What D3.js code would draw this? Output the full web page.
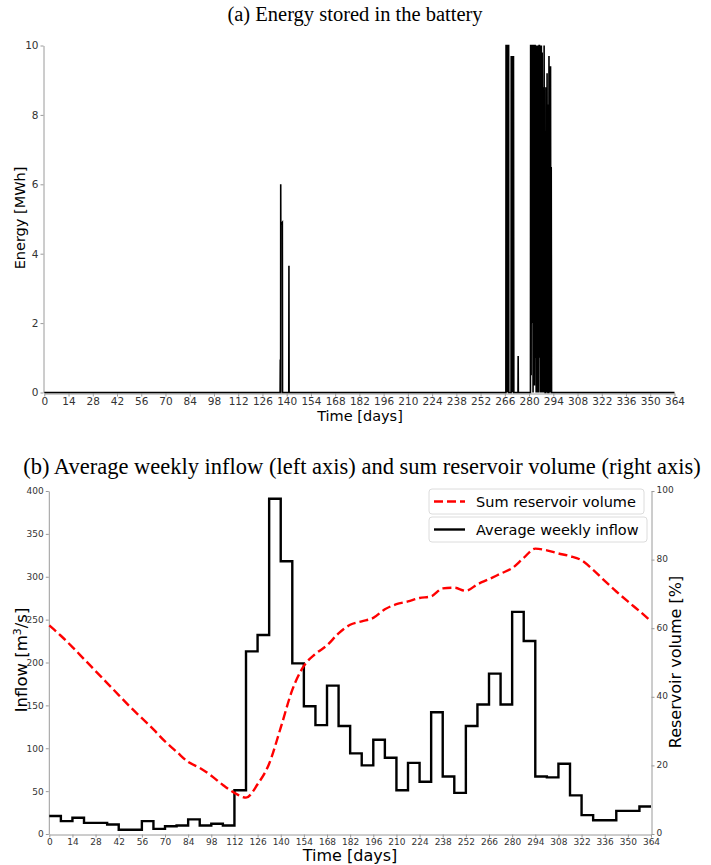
<!DOCTYPE html>
<html><head><meta charset="utf-8">
<script src="https://cdn.jsdelivr.net/npm/d3@7"></script>
<style>body{margin:0;background:#fff}svg{display:block}</style>
</head><body>
<svg id="c" width="711" height="865"></svg>
<script>
// ---------- DATA ----------
const dayTicks = d3.range(0, 365, 14);
const energyTicks = [0, 2, 4, 6, 8, 10];
const inflowTicks = [0, 50, 100, 150, 200, 250, 300, 350, 400];
const volumeTicks = [0, 20, 40, 60, 80, 100];

// Battery energy (MWh) – non-zero episodes, zero elsewhere
const batteryDay = [0, 136.2, 136.3, 136.4, 136.5, 136.55, 136.6, 136.7, 136.75, 137.5, 137.6, 141.2, 141.3, 141.4,
  266.6, 266.7, 266.9, 267.0, 267.1, 267.3, 267.5, 267.7, 267.8, 268.2, 268.3,
  269.6, 269.7, 269.9, 270.0, 270.3, 270.5, 270.8, 271.0, 271.2,
  273.6, 273.7, 273.8,
  280.8, 280.9, 281.1, 281.2, 281.3, 281.5, 281.6, 281.7, 281.9, 282.0, 282.2, 282.3, 282.4, 282.6, 282.7, 282.8,
  283.0, 283.1, 283.2, 283.5, 283.6, 283.7, 283.9, 284.1, 284.2, 284.4, 284.5, 284.7, 284.8, 285.0, 285.2, 285.4,
  285.6, 285.8, 286.0, 286.1, 286.3, 286.5, 286.7, 286.8, 287.0, 287.1, 287.3, 287.4, 287.6, 287.8, 288.0, 288.2,
  288.3, 288.5, 288.7, 288.9, 289.0, 289.2, 289.3,
  289.6, 289.7, 289.9, 290.0, 290.2, 290.4, 290.6, 290.7, 290.9,
  291.4, 291.5, 291.7, 291.8, 292.0, 292.1, 292.4, 292.6, 292.8, 293.0, 293.2, 364];
const batteryMWh = [0, 0, 0.95, 0, 0, 6.0, 4.9, 4.9, 4.85, 4.9, 0, 0, 3.65, 0,
  0, 10, 10, 0, 10, 4.3, 10, 0, 10, 10, 0,
  0, 9.7, 0, 9.7, 0, 9.7, 2, 9.7, 0,
  0, 1.05, 0,
  0, 10, 10, 0.5, 10, 10, 2, 10, 8.7, 10, 10, 0, 10, 10, 3, 10,
  9.5, 0.2, 10, 10, 1, 8.8, 10, 0, 10, 7.8, 10, 0, 8.5, 10, 3.5, 8.8,
  0, 10, 10, 1, 4.5, 9.9, 0, 10, 6, 10, 0, 5, 9.8, 2, 8.8, 0,
  7.3, 3, 10, 0, 7, 0.8, 0,
  0, 8.8, 0, 6.5, 2, 9.2, 0, 8.3, 0,
  0, 9.7, 1, 9.4, 0, 8.9, 9.4, 0, 6.5, 0, 0, 0];

// Average weekly inflow (m3/s), one value per week starting at day 0,7,...,357
const weekStart = d3.range(0, 364, 7);
const weeklyInflow = [21, 15, 19, 13, 13, 11, 5, 5, 15, 6, 9, 10, 17, 10, 12, 10,
  51, 213, 232, 391, 318, 199, 149, 127, 173, 126, 94, 80, 110, 89, 51, 83,
  61, 142, 67, 48, 126, 151, 187, 151, 259, 225, 67, 66, 82, 45, 22, 16,
  16, 27, 27, 32];

// Sum reservoir volume (%)
const volumeDay = [0, 7, 14, 21, 28, 35, 42, 49, 56, 63, 70, 77, 84, 91, 98, 105, 112, 119, 126, 133, 140, 147, 154,
  161, 168, 175, 182, 189, 196, 203, 210, 217, 224, 231, 238, 245, 252, 259, 266, 273, 280, 287, 294,
  301, 308, 315, 322, 329, 336, 343, 350, 357, 364];
const volumePct = [60.8, 57.8, 54.5, 51.0, 47.5, 44.0, 40.5, 37.0, 33.8, 30.5, 27.0, 24.0, 21.0, 19.3, 17.0, 14.3, 12.0, 10.6, 14.5, 20.5, 31.0, 42.0, 49.0,
  52.5, 55.0, 58.5, 61.0, 62.0, 63.0, 65.5, 67.0, 67.8, 68.8, 69.3, 71.6, 71.8, 70.9, 72.8, 74.3, 75.9, 77.5, 80.5, 83.2,
  82.7, 81.8, 81.0, 79.8, 77.0, 73.8, 70.7, 67.8, 65.0, 62.0];

// ---------- DRAW ----------
const svg = d3.select("#c");
svg.append("rect").attr("width", 711).attr("height", 865).attr("fill", "#fff");
const spine = "#9a9a9a", tickTxt = "#333";
const sans = "'DejaVu Sans', sans-serif", serif = "'Liberation Serif', 'Times New Roman', serif";

function styleAxis(g, fs) {
  g.select(".domain").attr("stroke", spine).attr("stroke-width", 1);
  g.selectAll(".tick line").attr("stroke", spine);
  g.selectAll(".tick text").attr("fill", tickTxt).attr("font-family", sans).attr("font-size", fs);
}

// ===== (a) =====
svg.append("text").attr("x", 355).attr("y", 21).attr("text-anchor", "middle")
  .attr("font-family", serif).attr("font-size", 20.5).text("(a) Energy stored in the battery");

const xa = d3.scaleLinear().domain([0, 364]).range([44.3, 674.5]);
const ya = d3.scaleLinear().domain([0, 10]).range([392.5, 45.5]);

const gax = svg.append("g").attr("transform", "translate(0,393.5)")
  .call(d3.axisBottom(xa).tickValues(dayTicks).tickSize(3).tickPadding(1.5).tickSizeOuter(0));
styleAxis(gax, 10.5);
const gay = svg.append("g").attr("transform", "translate(43.5,0)")
  .call(d3.axisLeft(ya).tickValues(energyTicks).tickSize(3).tickPadding(2).tickSizeOuter(0));
styleAxis(gay, 10.5);

const batPts = batteryDay.map((d, i) => [d, batteryMWh[i]]);
svg.append("path").datum(batPts)
  .attr("d", d3.line().x(d => xa(d[0])).y(d => ya(d[1])))
  .attr("fill", "none").attr("stroke", "#000").attr("stroke-width", 1.6).attr("stroke-linejoin", "miter");

svg.append("text").attr("x", 360).attr("y", 420.5).attr("text-anchor", "middle")
  .attr("font-family", sans).attr("font-size", 14.5).text("Time [days]");
svg.append("text").attr("transform", "translate(25,218) rotate(-90)").attr("text-anchor", "middle")
  .attr("font-family", sans).attr("font-size", 14.5).text("Energy [MWh]");

// ===== (b) =====
svg.append("text").attr("x", 362).attr("y", 474).attr("text-anchor", "middle")
  .attr("font-family", serif).attr("font-size", 22.5)
  .text("(b) Average weekly inflow (left axis) and sum reservoir volume (right axis)");

const xb = d3.scaleLinear().domain([0, 364]).range([49.3, 651]);
const yl = d3.scaleLinear().domain([0, 400]).range([834, 491]);
const yr = d3.scaleLinear().domain([0, 100]).range([834, 491]);

const gbx = svg.append("g").attr("transform", "translate(0,834.5)")
  .call(d3.axisBottom(xb).tickValues(dayTicks).tickSize(3).tickPadding(1).tickSizeOuter(0));
styleAxis(gbx, 9);
const gbl = svg.append("g").attr("transform", "translate(48.8,0)")
  .call(d3.axisLeft(yl).tickValues(inflowTicks).tickSize(3).tickPadding(2).tickSizeOuter(0));
styleAxis(gbl, 9);
const gbr = svg.append("g").attr("transform", "translate(651.5,0)")
  .call(d3.axisRight(yr).tickValues(volumeTicks).tickSize(3).tickPadding(2).tickSizeOuter(0));
styleAxis(gbr, 9);
gbr.selectAll(".tick text").attr("dy", "0.2em");

const inflowPts = weekStart.map((d, i) => [d, weeklyInflow[i]]);
inflowPts.push([364, weeklyInflow[weeklyInflow.length - 1]]);
svg.append("path").datum(inflowPts)
  .attr("d", d3.line().curve(d3.curveStepAfter).x(d => xb(d[0])).y(d => yl(d[1])))
  .attr("fill", "none").attr("stroke", "#000").attr("stroke-width", 2.4);

const volPts = volumeDay.map((d, i) => [d, volumePct[i]]);
svg.append("path").datum(volPts)
  .attr("d", d3.line().curve(d3.curveMonotoneX).x(d => xb(d[0])).y(d => yr(d[1])))
  .attr("fill", "none").attr("stroke", "#ff0000").attr("stroke-width", 2.4)
  .attr("stroke-dasharray", "9,4");

svg.append("text").attr("x", 350).attr("y", 861).attr("text-anchor", "middle")
  .attr("font-family", sans).attr("font-size", 16).text("Time [days]");
const il = svg.append("text").attr("transform", "translate(27,660) rotate(-90)").attr("text-anchor", "middle")
  .attr("font-family", sans).attr("font-size", 16.5);
il.append("tspan").text("Inflow [m");
il.append("tspan").attr("font-size", 11).attr("dy", -6).text("3");
il.append("tspan").attr("dy", 6).text("/s]");
svg.append("text").attr("transform", "translate(681,662) rotate(-90)").attr("text-anchor", "middle")
  .attr("font-family", sans).attr("font-size", 16).text("Reservoir volume [%]");

// legends
const legends = [
  {y: 489, w: 215, label: "Sum reservoir volume", color: "#ff0000", dash: "9,4"},
  {y: 517, w: 218, label: "Average weekly inflow", color: "#000", dash: null}
];
legends.forEach(L => {
  const g = svg.append("g");
  g.append("rect").attr("x", 429).attr("y", L.y).attr("width", L.w).attr("height", 25)
    .attr("rx", 3).attr("fill", "#fff").attr("fill-opacity", 0.8).attr("stroke", "#dcdcdc");
  g.append("line").attr("x1", 434).attr("x2", 465).attr("y1", L.y + 12.5).attr("y2", L.y + 12.5)
    .attr("stroke", L.color).attr("stroke-width", 2.4).attr("stroke-dasharray", L.dash);
  g.append("text").attr("x", 476).attr("y", L.y + 17.5).attr("font-family", sans).attr("font-size", 14.5)
    .text(L.label);
});
</script>
</body></html>
